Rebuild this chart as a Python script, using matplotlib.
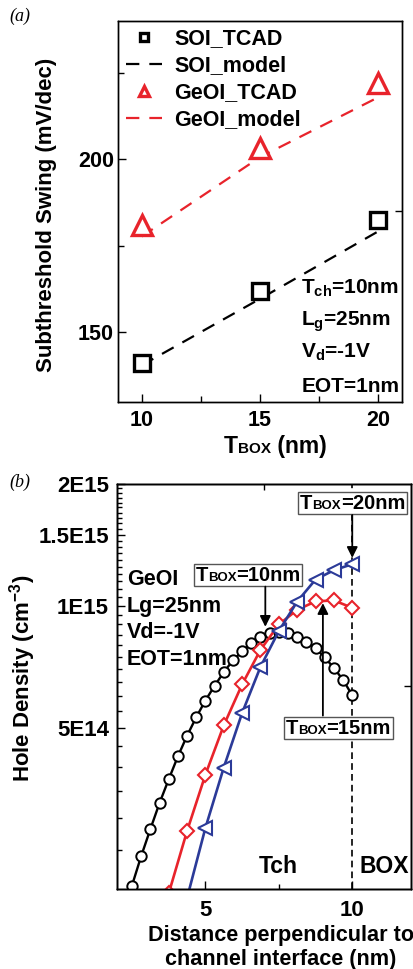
import numpy as np
import matplotlib
matplotlib.use('Agg')
import matplotlib.pyplot as plt
from matplotlib.ticker import FixedLocator, NullFormatter, FixedFormatter
from matplotlib.offsetbox import TextArea, HPacker, AnnotationBbox

plt.rcParams['font.family'] = ['Liberation Sans', 'DejaVu Sans']
plt.rcParams['font.weight'] = 'bold'
plt.rcParams['mathtext.fontset'] = 'custom'
plt.rcParams['mathtext.rm'] = 'Liberation Sans:bold'
plt.rcParams['mathtext.it'] = 'Liberation Sans:bold'
plt.rcParams['mathtext.bf'] = 'Liberation Sans:bold'
plt.rcParams['axes.linewidth'] = 1.0

RED = '#e8232b'
BLUE = '#2b3a98'

# (a) subthreshold swing vs BOX thickness
t_box = [10, 15, 20]
soi_tcad = [141.2, 162.0, 182.6]
soi_model = [140.5, 159.7, 179.2]
geoi_tcad = [181.0, 203.2, 221.9]
geoi_model = [177.7, 200.6, 217.9]

# (b) hole density profiles across the channel (GeOI)
x_10 = [2.1875, 2.5, 2.8125, 3.125, 3.4375, 3.75, 4.0625, 4.375, 4.6875, 5.0,
        5.3125, 5.625, 5.9375, 6.25, 6.5625, 6.875, 7.1875, 7.5, 7.8125,
        8.125, 8.4375, 8.75, 9.0625, 9.375, 9.6875, 10.0]
p_10 = [1.70e14, 2.04e14, 2.41e14, 2.81e14, 3.26e14, 3.73e14, 4.25e14, 4.78e14,
        5.31e14, 5.84e14, 6.35e14, 6.86e14, 7.34e14, 7.72e14, 8.08e14, 8.38e14,
        8.55e14, 8.63e14, 8.55e14, 8.40e14, 8.16e14, 7.86e14, 7.47e14, 7.02e14,
        6.57e14, 6.01e14]
x_15 = [3.75, 4.375, 5.0, 5.625, 6.25, 6.875, 7.5, 8.125, 8.75, 9.375, 10.0]
p_15 = [1.95e14, 2.78e14, 3.83e14, 5.07e14, 6.40e14, 7.79e14, 9.00e14,
        9.78e14, 1.026e15, 1.032e15, 9.89e14]
x_20 = [4.375, 5.0, 5.625, 6.25, 6.875, 7.5, 8.125, 8.75, 9.375, 10.0]
p_20 = [1.90e14, 2.83e14, 3.99e14, 5.44e14, 7.07e14, 8.67e14, 1.025e15,
        1.162e15, 1.225e15, 1.268e15]

y_ticks_b = [5e14, 1e15, 1.5e15, 2e15]
y_ticklabels_b = ['5E14', '1E15', '1.5E15', '2E15']

fig = plt.figure(figsize=(4.14, 9.69), dpi=100)


def tbox_label(value, size=14.5, small=9.5):
    parts = [TextArea('T', textprops=dict(fontsize=size, fontweight='bold')),
             TextArea('BOX', textprops=dict(fontsize=small, fontweight='bold')),
             TextArea(value, textprops=dict(fontsize=size, fontweight='bold'))]
    return HPacker(children=parts, align='baseline', pad=0, sep=0)


# ---------------- (a) ----------------
ax1 = fig.add_axes([118 / 414, 1 - 401.7 / 969, 284 / 414, 381 / 969])
ax1.plot(t_box, soi_model, ls='--', color='k', lw=1.6, dashes=(6, 4.5),
         label='SOI_model', zorder=2)
ax1.plot(t_box, geoi_model, ls='--', color=RED, lw=1.6, dashes=(6, 4.5),
         label='GeOI_model', zorder=2)
ax1.plot(t_box, soi_tcad, ls='none', marker='s', ms=12, mew=2.4,
         mec='k', mfc='white', label='SOI_TCAD', zorder=3)
ax1.plot(t_box, geoi_tcad, ls='none', marker='^', ms=14, mew=2.4,
         mec=RED, mfc='white', label='GeOI_TCAD', zorder=3)

ax1.set_xlim(9, 21)
ax1.set_ylim(130, 240)
ax1.xaxis.set_major_locator(FixedLocator([10, 15, 20]))
ax1.xaxis.set_minor_locator(FixedLocator([12.5, 17.5]))
ax1.yaxis.set_major_locator(FixedLocator([150, 200]))
ax1.yaxis.set_minor_locator(FixedLocator([175, 225]))
ax1.tick_params(which='both', direction='in', labelsize=15.5, width=1)
ax1.tick_params(which='major', length=6)
ax1.tick_params(which='minor', length=4)
ax1.tick_params(axis='x', pad=6)
ax1.tick_params(axis='y', pad=3)
for lab in ax1.get_xticklabels() + ax1.get_yticklabels():
    lab.set_fontweight('bold')

ax1.set_ylabel('Subthreshold Swing (mV/dec)', fontsize=16, fontweight='bold')
ax1.yaxis.set_label_coords(-0.215, 0.49)

xl = tbox_label(' (nm)', size=16.5, small=11)
ax1.add_artist(AnnotationBbox(xl, (0.553, -0.118), xycoords='axes fraction',
                              frameon=False, box_alignment=(0.5, 0.5),
                              annotation_clip=False))

handles, labels = ax1.get_legend_handles_labels()
order = [2, 0, 3, 1]
ax1.legend([handles[i] for i in order], [labels[i] for i in order],
           loc='upper left', bbox_to_anchor=(0.0, 1.0), frameon=False,
           markerscale=0.5, handlelength=1.7, handletextpad=0.55,
           labelspacing=0.28, borderaxespad=0.25, borderpad=0.1,
           prop=dict(weight='bold', size=15.5))

notes_a = [('T$_{ch}$=10nm', 161.1), ('L$_{g}$=25nm', 151.9),
           ('V$_{d}$=-1V', 142.8), ('EOT=1nm', 132.7)]
for txt, yb in notes_a:
    ax1.text(16.75, yb, txt, fontsize=15, fontweight='bold', va='baseline')

ax1r = ax1.twinx()
ax1r.set_ylim(ax1.get_ylim())
ax1r.yaxis.set_major_locator(FixedLocator([185]))
ax1r.yaxis.set_major_formatter(NullFormatter())
ax1r.tick_params(direction='in', length=5, width=1)

fig.text(0.047, 0.983, '(a)', fontsize=13, family='Liberation Serif',
         style='italic', fontweight='normal', ha='center', va='center')

# ---------------- (b) ----------------
ax2 = fig.add_axes([117.3 / 414, 1 - 889 / 969, 293.7 / 414, 405 / 969])
ax2.set_yscale('log')
ax2.plot(x_10, p_10, '-', color='k', lw=1.7, marker='o', ms=7.5, mew=1.4,
         mec='k', mfc='white', zorder=3)
ax2.plot(x_15, p_15, '-', color=RED, lw=1.9, marker='D', ms=7, mew=1.5,
         mec=RED, mfc='white', zorder=4)
ax2.plot(x_20, p_20, '-', color=BLUE, lw=1.9, marker='<', ms=9.5, mew=1.5,
         mec=BLUE, mfc='white', zorder=5)
ax2.axvline(10, color='k', lw=1.2, ls='--', dashes=(4, 2.5), zorder=1)

ax2.set_xlim(2, 12)
ax2.set_ylim(2e14, 2e15)
ax2.xaxis.set_major_locator(FixedLocator([5, 10]))
ax2.xaxis.set_minor_locator(FixedLocator([2.5, 7.5]))
ax2.yaxis.set_major_locator(FixedLocator(y_ticks_b))
ax2.yaxis.set_major_formatter(FixedFormatter(y_ticklabels_b))
minor_b = [v for v in np.arange(2.5e14, 2e15, 5e13) if min(abs(v - t) for t in y_ticks_b) > 1e13]
ax2.yaxis.set_minor_locator(FixedLocator(minor_b))
ax2.yaxis.set_minor_formatter(NullFormatter())
ax2.tick_params(which='both', direction='in', labelsize=16, width=1)
ax2.tick_params(which='major', length=6)
ax2.tick_params(which='minor', length=3.5)
ax2.tick_params(axis='x', pad=8)
ax2.tick_params(axis='y', pad=6)
for lab in ax2.get_xticklabels() + ax2.get_yticklabels():
    lab.set_fontweight('bold')

ax2.set_ylabel('Hole Density (cm$^{-3}$)', fontsize=16, fontweight='bold')
ax2.yaxis.set_label_coords(-0.27, 0.52)
ax2.text(0.556, -0.088, 'Distance perpendicular to\nchannel interface (nm)',
         transform=ax2.transAxes, ha='center', va='top', fontsize=15.6,
         fontweight='bold', linespacing=1.2)

notes_b = [('GeOI', 0.7506), ('Lg=25nm', 0.6847), ('Vd=-1V', 0.6190),
           ('EOT=1nm', 0.5531)]
for txt, yf in notes_b:
    ax2.text(0.032, yf, txt, transform=ax2.transAxes, fontsize=15.5,
             fontweight='bold', va='baseline', zorder=6)
ax2.text(0.482, 0.0388, 'Tch', transform=ax2.transAxes, fontsize=16.5,
         fontweight='bold', va='baseline')
ax2.text(0.824, 0.0388, 'BOX', transform=ax2.transAxes, fontsize=16.5,
         fontweight='bold', va='baseline')

box_style = dict(edgecolor='#555555', lw=1.0, facecolor='white')
for val, pos in [('=10nm', (0.4447, 0.7746)), ('=15nm', (0.7525, 0.3975)),
                 ('=20nm', (0.8008, 0.9523))]:
    ab = AnnotationBbox(tbox_label(val), pos, xycoords='axes fraction',
                        frameon=True, box_alignment=(0.5, 0.5), pad=0.12,
                        bboxprops=box_style, zorder=7, annotation_clip=False)
    ax2.add_artist(ab)

arrow = dict(arrowstyle='-|>', color='k', lw=1.3, mutation_scale=16,
             shrinkA=0, shrinkB=0)
ax2.annotate('', xy=(7.04, 8.88e14), xytext=(7.04, 1.116e15), arrowprops=arrow, zorder=8)
ax2.annotate('', xy=(9.0, 1.016e15), xytext=(9.0, 5.36e14), arrowprops=arrow, zorder=8)
ax2.annotate('', xy=(10.0, 1.314e15), xytext=(10.0, 1.677e15), arrowprops=arrow, zorder=8)

ax2r = ax2.twinx()
ax2r.set_yscale('log')
ax2r.set_ylim(ax2.get_ylim())
ax2r.yaxis.set_major_locator(FixedLocator([6.33e14]))
ax2r.yaxis.set_major_formatter(NullFormatter())
ax2r.yaxis.set_minor_locator(FixedLocator([]))
ax2r.tick_params(direction='in', length=5, width=1)
ax2t = ax2.twiny()
ax2t.set_xlim(ax2.get_xlim())
ax2t.xaxis.set_major_locator(FixedLocator([7.0]))
ax2t.xaxis.set_major_formatter(NullFormatter())
ax2t.tick_params(direction='in', length=4, width=1)

fig.text(0.047, 0.502, '(b)', fontsize=13, family='Liberation Serif',
         style='italic', fontweight='normal', ha='center', va='center')

fig.savefig('out.png', dpi=100)
